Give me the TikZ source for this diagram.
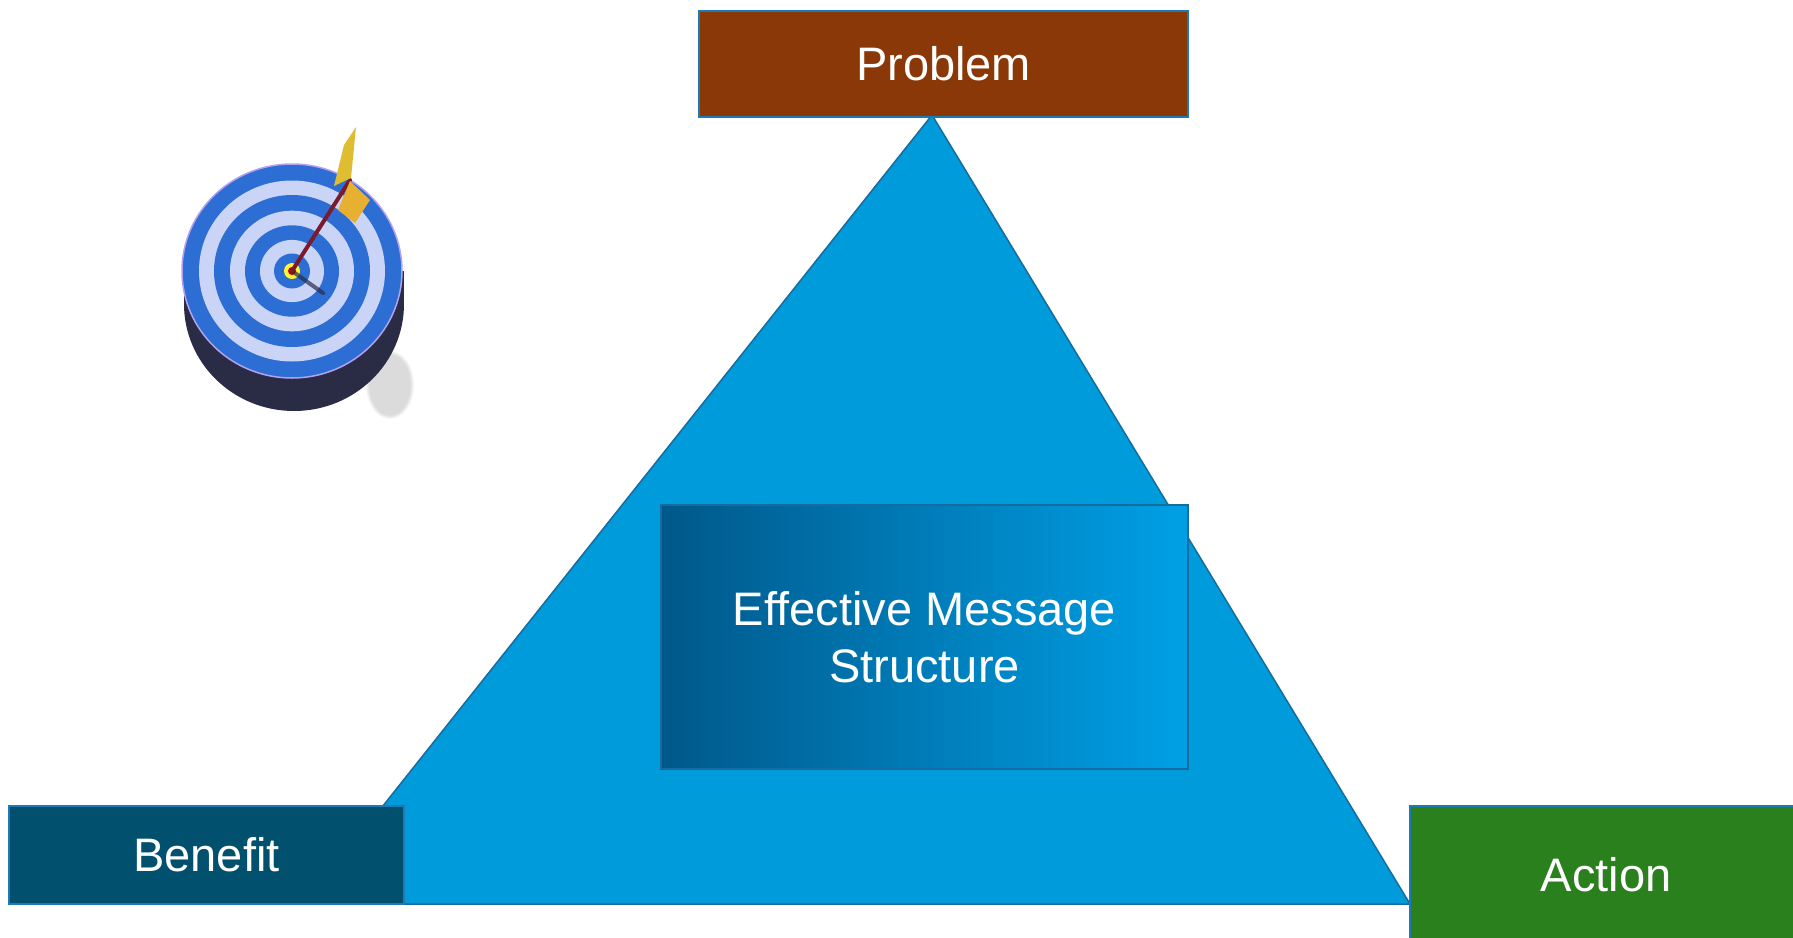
\documentclass[tikz,border=0pt]{standalone}
\usepackage{fontspec}
\setmainfont{Liberation Sans}
\definecolor{triblue}{RGB}{0,155,219}
\definecolor{triedge}{RGB}{22,108,158}
\definecolor{boxedge}{RGB}{30,122,182}
\definecolor{probfill}{RGB}{139,56,8}
\definecolor{benefill}{RGB}{0,80,110}
\definecolor{actfill}{RGB}{43,128,30}
\definecolor{gradleft}{RGB}{0,88,138}
\definecolor{gradright}{RGB}{0,160,230}
\definecolor{ringblue}{RGB}{45,110,212}
\definecolor{ringlight}{RGB}{202,212,246}
\definecolor{targetdark}{RGB}{42,44,70}
\definecolor{rimlav}{RGB}{180,160,240}
\definecolor{shaftred}{RGB}{122,26,42}
\definecolor{flightA}{RGB}{222,190,48}
\definecolor{flightB}{RGB}{232,176,48}
\begin{document}
\begin{tikzpicture}[x=1pt,y=-1pt,
  lab/.style={text=white,font=\fontsize{47}{57}\selectfont,align=center},
  box/.style={draw=boxedge,line width=1.5pt,inner sep=0pt,outer sep=0pt,anchor=north west},
  ringL/.style={fill=ringlight},
  ringB/.style={fill=ringblue}]
\useasboundingbox (0,0) rectangle (1793,937);
\clip (0,0) rectangle (1793,937);
\fill[white] (0,0) rectangle (1793,937);

% target icon
\foreach \o in {0.10,0.12,0.15,0.18}{
  \fill[gray!60,opacity=\o] (390,385) ellipse ({28-40*\o} and {38-40*\o});
}
\fill[targetdark] (294,304) ellipse (110 and 107);
\fill[targetdark] (184,271) rectangle (404,304);
\fill[ringblue] (292,271) ellipse (110 and 107);
\draw[rimlav,line width=1.5pt] (292,271) ellipse (110 and 107);
\fill[ringL] (292,271) ellipse (93 and 90.5);
\fill[ringB] (292,271) ellipse (78 and 76);
\fill[ringL] (292,271) ellipse (62 and 60.3);
\fill[ringB] (292,271) ellipse (47 and 45.7);
\fill[ringL] (292,271) ellipse (32 and 31.1);
\fill[ringB] (292,271) ellipse (18 and 17.5);
\fill[yellow!80!white] (292,271) ellipse (8 and 8);
\fill[red!75!black] (292,271) ellipse (4 and 4);
\coordinate (bull) at (292,271);
\coordinate (dartshadow) at (323,293);
\coordinate (dartend) at (350,180);
\draw[targetdark,line width=4pt,opacity=0.7,line cap=round] (bull) -- (dartshadow);
\draw[shaftred,line width=4pt,line cap=round] (bull) -- (dartend);
\fill[flightA] (334,186) -- (351,178) -- (356,127) -- (344,145) -- cycle;
\fill[flightB] (338,210) -- (350,181) -- (370,200) -- (355,223) -- cycle;

% triangle
\coordinate (apex) at (932,115);
\coordinate (bl) at (305,904);
\coordinate (br) at (1410,904);
\draw[fill=triblue,draw=triedge,line width=1.5pt,line join=round] (apex) -- (bl) -- (br) -- cycle;

% boxes
\node[box,fill=probfill,minimum width=489pt,minimum height=106pt,lab] (problem) at (699,11) {Problem};
\node[box,fill=benefill,minimum width=395pt,minimum height=98pt,lab] (benefit) at (9,806) {Benefit};
\node[box,fill=actfill,minimum width=392pt,minimum height=138pt,lab] (action) at (1410,806) {Action};
\node[box,draw=triedge,left color=gradleft,right color=gradright,minimum width=527pt,minimum height=264pt,lab] (ems) at (661,505) {Effective Message\\Structure};
\end{tikzpicture}
\end{document}
